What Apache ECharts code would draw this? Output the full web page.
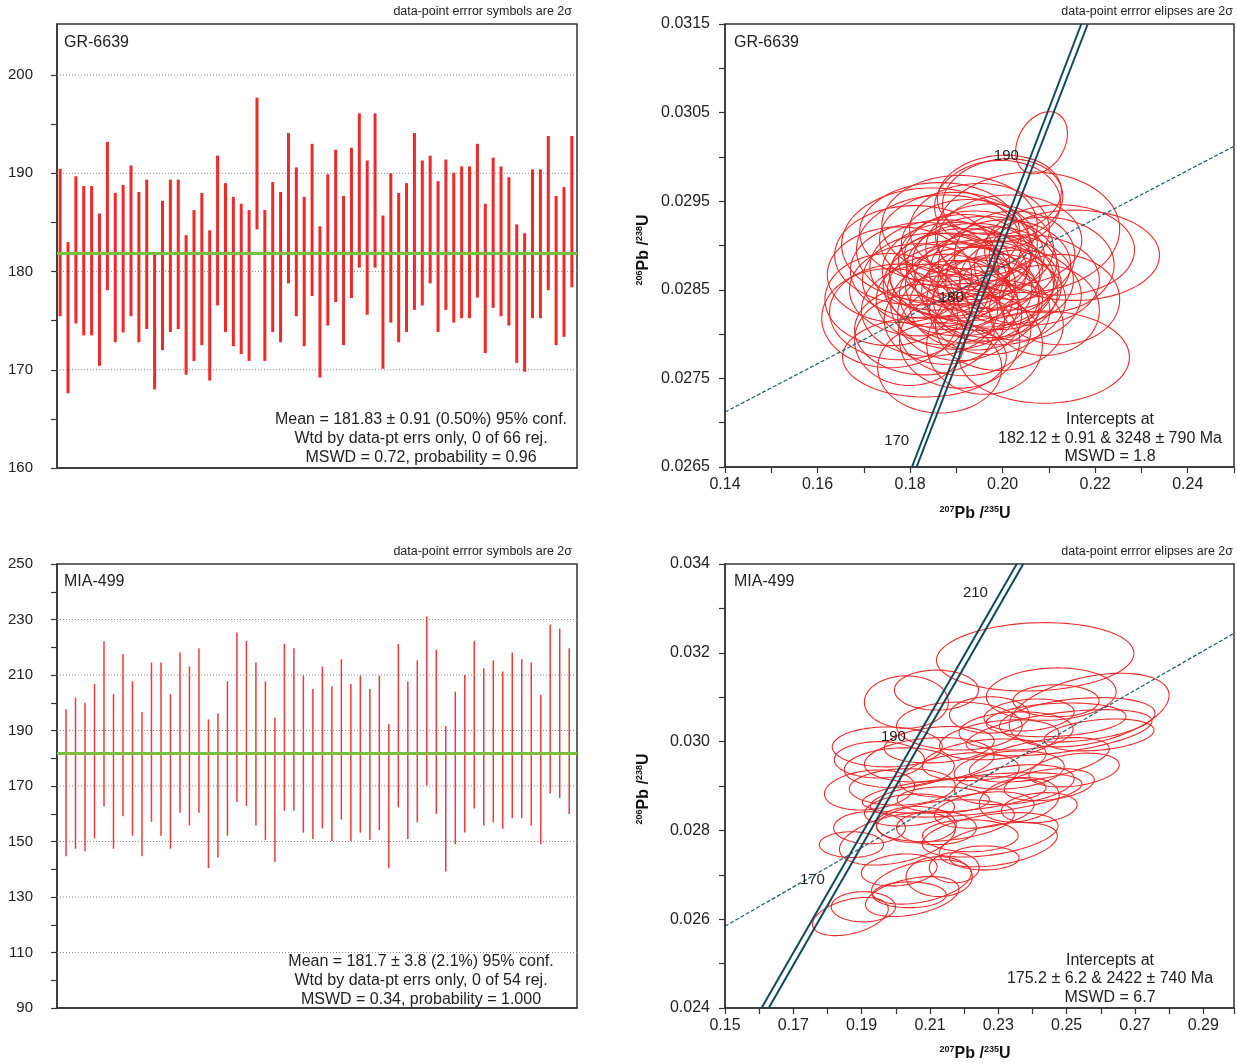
<!DOCTYPE html>
<html><head><meta charset="utf-8">
<script src="https://cdn.jsdelivr.net/npm/echarts@6/dist/echarts.min.js"></script>
<style>html,body{margin:0;padding:0;background:#fff}#c{width:1237px;height:1064px}</style>
</head><body><div id="c"></div>
<script>
// ---------------- DATA ----------------
// GR-6639 weighted mean: 2σ error bars (Ma)
const grAgeHigh = [190.46,183.0,189.7,188.7,188.7,185.9,193.2,188.0,188.8,190.8,188.1,189.35,181.8,187.2,189.35,189.35,183.7,186.25,188.0,184.2,191.8,189.0,187.6,186.9,186.25,197.7,186.25,189.1,188.1,194.1,190.6,187.6,193.0,184.6,189.9,192.4,187.7,192.6,196.1,191.3,196.1,185.7,190.0,188.0,189.0,194.1,191.3,191.8,189.2,191.4,190.05,190.7,190.7,193.0,186.9,191.6,190.7,189.6,184.8,183.9,190.4,190.4,193.8,187.7,188.6,193.8];
const grAgeLow = [175.45,167.6,174.7,173.5,173.5,170.4,178.1,172.8,173.8,175.45,172.8,174.15,168.0,172.0,173.85,174.15,169.5,170.9,172.5,168.9,176.55,173.85,172.4,171.6,170.9,184.3,170.9,173.85,172.8,178.8,175.45,172.4,177.5,169.2,174.5,176.9,172.5,177.3,180.4,175.6,180.4,170.1,174.8,172.8,173.85,176.1,176.55,178.8,173.85,176.1,174.8,175.25,175.25,177.35,171.7,176.3,175.45,174.5,170.7,169.8,175.25,175.25,178.1,172.5,173.35,178.4];
const grMean = 181.83;
const grGridValues = [170,180,190,200];
const grTickValues = [160,165,170,175,180,185,190,195,200];
const grTickLabels = [160,170,180,190,200];

// MIA-499 weighted mean: 2σ error bars (Ma)
const miaAgeHigh = [197.7,201.9,200.0,206.8,222.2,203.1,217.6,207.7,196.7,214.5,214.5,203.1,218.1,213.1,219.6,194.0,196.1,207.7,225.3,222.2,214.5,207.7,194.7,221.2,219.6,209.8,205.0,213.1,205.9,215.7,206.8,209.8,205.0,209.8,192.3,221.2,207.7,215.3,231.1,219.1,191.6,204.0,210.0,222.2,212.4,215.3,211.3,218.1,215.7,214.5,202.8,228.1,226.7,219.6];
const miaAgeLow = [144.7,147.4,146.5,151.1,162.8,147.4,159.1,152.1,144.7,157.1,152.1,147.4,160.4,155.8,160.4,140.4,144.2,152.1,164.2,162.8,155.8,150.5,142.7,161.1,161.1,153.2,150.9,154.7,150.2,157.9,150.2,153.2,150.5,154.1,140.4,162.3,150.9,156.9,170.2,159.9,139.2,149.0,153.2,161.9,155.8,156.9,154.6,158.4,158.4,155.8,149.0,167.3,165.7,159.9];
const miaMean = 181.7;
const miaGridValues = [110,130,150,170,190,210,230];

// Concordia ellipses: [207Pb/235U, 206Pb/238U, half-width x, half-height y, correlation]
const grEllipses = [
[0.2084,0.03016,0.0056,0.00035,0.3],
[0.1993,0.02957,0.0134,0.00045,0.1],
[0.2000,0.02951,0.0130,0.00047,0.1],
[0.1989,0.02946,0.0136,0.00050,0.05],
[0.2054,0.02915,0.0199,0.00068,0.05],
[0.1846,0.02901,0.0194,0.00064,0],
[0.1874,0.02895,0.0190,0.00062,0],
[0.2155,0.02889,0.0184,0.00051,0],
[0.2123,0.02895,0.0162,0.00051,0],
[0.2090,0.02878,0.0151,0.00054,0],
[0.1756,0.02818,0.0147,0.00056,0],
[0.1777,0.02825,0.0151,0.00054,0],
[0.1831,0.02774,0.0177,0.00045,0],
[0.1864,0.02762,0.0134,0.00051,0],
[0.2090,0.02774,0.0184,0.00052,0],
[0.2123,0.02839,0.0130,0.00051,0],
[0.2090,0.02827,0.0119,0.00051,0],
[0.1907,0.02793,0.0130,0.00054,0],
[0.1961,0.02788,0.0125,0.00056,0],
[0.1799,0.02793,0.0119,0.00051,0],
[0.1864,0.02878,0.0151,0.00051,0.05],
[0.1896,0.02872,0.0156,0.00054,0],
[0.1918,0.02867,0.0162,0.00052,0],
[0.1939,0.02875,0.0147,0.00050,0],
[0.1961,0.02861,0.0151,0.00053,0],
[0.1982,0.02870,0.0140,0.00051,0],
[0.1885,0.02855,0.0143,0.00050,0],
[0.1907,0.02850,0.0156,0.00052,0],
[0.1928,0.02844,0.0151,0.00054,0],
[0.1950,0.02855,0.0160,0.00051,0],
[0.1972,0.02848,0.0147,0.00052,0],
[0.1993,0.02855,0.0134,0.00050,0],
[0.1853,0.02861,0.0156,0.00053,0],
[0.1874,0.02839,0.0147,0.00051,0],
[0.1896,0.02833,0.0138,0.00050,0],
[0.1918,0.02884,0.0143,0.00051,0],
[0.1939,0.02889,0.0151,0.00050,0],
[0.1961,0.02881,0.0156,0.00052,0],
[0.2004,0.02878,0.0143,0.00051,0],
[0.2015,0.02861,0.0138,0.00050,0],
[0.1831,0.02872,0.0160,0.00054,0],
[0.1820,0.02850,0.0151,0.00052,0],
[0.1939,0.02833,0.0140,0.00051,0],
[0.1972,0.02827,0.0130,0.00050,0],
[0.1993,0.02839,0.0143,0.00051,0],
[0.1907,0.02822,0.0134,0.00052,0],
[0.1874,0.02816,0.0130,0.00050,0],
[0.1842,0.02827,0.0147,0.00052,0],
[0.1928,0.02901,0.0147,0.00051,0],
[0.1972,0.02897,0.0138,0.00050,0],
[0.1896,0.02906,0.0162,0.00054,0],
[0.2026,0.02889,0.0130,0.00050,0],
[0.2036,0.02844,0.0134,0.00051,0],
[0.1864,0.02915,0.0173,0.00056,0],
[0.1950,0.02918,0.0151,0.00052,0],
[0.1907,0.02923,0.0168,0.00056,0],
[0.2015,0.02906,0.0156,0.00051,0],
[0.1777,0.02867,0.0156,0.00054,0],
[0.1756,0.02839,0.0140,0.00052,0],
[0.1810,0.02889,0.0173,0.00056,0],
[0.2058,0.02861,0.0151,0.00051,0],
[0.1918,0.02805,0.0143,0.00052,0],
[0.1993,0.02810,0.0138,0.00051,0],
[0.1831,0.02805,0.0151,0.00051,0],
[0.1885,0.02867,0.0130,0.00047,0],
[0.1961,0.02839,0.0125,0.00047,0]
];
const miaEllipses = [
[0.2408,0.03191,0.0289,0.00077,0.1],
[0.2031,0.03089,0.0123,0.00059,0],
[0.2119,0.03116,0.0123,0.00045,0],
[0.2455,0.03107,0.0190,0.00059,0.1],
[0.2566,0.03071,0.0234,0.00083,0.4],
[0.2469,0.03092,0.0126,0.00036,0],
[0.2531,0.03049,0.0228,0.00050,0.3],
[0.2469,0.03049,0.0205,0.00038,0.2],
[0.2186,0.03035,0.0184,0.00054,0],
[0.1975,0.02988,0.0161,0.00045,0],
[0.2352,0.03024,0.0167,0.00043,0.1],
[0.2478,0.03020,0.0272,0.00052,0.5],
[0.2390,0.03060,0.0132,0.00036,0.2],
[0.2303,0.03004,0.0175,0.00045,0.3],
[0.2259,0.02959,0.0181,0.00047,0.3],
[0.2098,0.02959,0.0190,0.00050,0.2],
[0.2010,0.02941,0.0161,0.00045,0.1],
[0.2186,0.02925,0.0175,0.00050,0.3],
[0.2332,0.02936,0.0161,0.00043,0.2],
[0.2420,0.02959,0.0205,0.00050,0.5],
[0.2449,0.02903,0.0132,0.00036,0.3],
[0.2019,0.02898,0.0155,0.00041,0.1],
[0.2171,0.02880,0.0269,0.00041,0.4],
[0.2235,0.02880,0.0310,0.00050,0.5],
[0.2139,0.02869,0.0135,0.00029,0],
[0.2361,0.02869,0.0117,0.00050,0.2],
[0.2347,0.02903,0.0175,0.00045,0.3],
[0.2005,0.02781,0.0170,0.00059,0.4],
[0.2060,0.02813,0.0117,0.00041,0],
[0.2119,0.02806,0.0117,0.00038,0],
[0.2145,0.02822,0.0202,0.00047,0.3],
[0.2218,0.02788,0.0140,0.00036,0],
[0.2276,0.02790,0.0199,0.00050,0.4],
[0.2300,0.02768,0.0173,0.00050,0.4],
[0.2259,0.02738,0.0102,0.00027,0],
[0.2171,0.02716,0.0073,0.00034,0],
[0.2127,0.02696,0.0097,0.00045,0],
[0.2075,0.02684,0.0146,0.00050,0.4],
[0.2048,0.02651,0.0137,0.00045,0.4],
[0.2040,0.02655,0.0108,0.00029,0],
[0.1905,0.02628,0.0094,0.00034,0],
[0.1867,0.02606,0.0111,0.00043,0.4],
[0.1870,0.02768,0.0094,0.00029,0],
[0.1923,0.02891,0.0132,0.00045,0.2],
[0.1952,0.02959,0.0132,0.00041,0],
[0.2274,0.03060,0.0117,0.00041,0],
[0.2595,0.03015,0.0161,0.00036,0.3],
[0.2127,0.02993,0.0161,0.00041,0.2],
[0.2040,0.02846,0.0132,0.00036,0.2],
[0.2522,0.02936,0.0132,0.00038,0.3],
[0.2259,0.02846,0.0146,0.00041,0.3],
[0.1923,0.02806,0.0105,0.00036,0],
[0.2420,0.02851,0.0111,0.00034,0.2],
[0.2010,0.02711,0.0111,0.00036,0.2]
];

// Concordia band edges, discordia and age labels
const grConcordiaA = [[0.1804,0.0265],[0.2170,0.0315]];
const grConcordiaB = [[0.1814,0.0265],[0.2184,0.0315]];
const grDiscordia = [[0.14,0.02712],[0.25,0.03012]];
const grAgeLabels = [[0.2008,0.03001,'190'],[0.1889,0.02841,'180'],[0.1771,0.02679,'170']];
const miaConcordiaA = [[0.1607,0.024],[0.2354,0.034]];
const miaConcordiaB = [[0.1628,0.024],[0.2373,0.034]];
const miaDiscordia = [[0.15,0.02584],[0.299,0.03244]];
const miaAgeLabels = [[0.2233,0.03335,'210'],[0.1993,0.03011,'190'],[0.1756,0.02689,'170']];

// ---------------- STYLE / LAYOUT ----------------
const FONT = '"Liberation Sans", Arial, Helvetica, sans-serif';
const RED = '#ec2a2a';
const TEAL = '#0f4a5c';
const GREEN = '#7bbf3e';
const AX = '#333';
const TXT = '#222';

const chart = echarts.init(document.getElementById('c'));

function gridLineSeries(vals, idx) {
  return {
    type: 'custom', xAxisIndex: idx, yAxisIndex: idx, silent: true, z: 1,
    data: vals.map(v => [0, v]), encode: {x: 0, y: 1},
    renderItem: (params, api) => {
      const cs = params.coordSys;
      const p = api.coord([api.value(0), api.value(1)]);
      return {type: 'line', shape: {x1: cs.x, y1: p[1], x2: cs.x + cs.width, y2: p[1]},
        style: {stroke: '#8a8a8a', lineWidth: 1, lineDash: [1, 2]}};
    }
  };
}
function errBarSeries(lo, hi, idx, width, color) {
  return {
    type: 'custom', xAxisIndex: idx, yAxisIndex: idx, silent: true, z: 3,
    data: lo.map((l, i) => [i + 1, l, hi[i]]), encode: {x: 0, y: [1, 2]},
    renderItem: (params, api) => {
      const a = api.coord([api.value(0), api.value(1)]);
      const b = api.coord([api.value(0), api.value(2)]);
      return {type: 'line', shape: {x1: a[0], y1: a[1], x2: b[0], y2: b[1]},
        style: {stroke: color, lineWidth: width}};
    }
  };
}
function meanSeries(mean, idx, x0, x1) {
  return {type: 'line', xAxisIndex: idx, yAxisIndex: idx, silent: true, z: 4, symbol: 'none',
    data: [[x0, mean], [x1, mean]], lineStyle: {color: GREEN, width: 3}};
}
function ellipseSeries(data, idx) {
  return {
    type: 'custom', xAxisIndex: idx, yAxisIndex: idx, silent: true, z: 2,
    data: data, encode: {x: 0, y: 1},
    renderItem: (params, api) => {
      const cx = api.value(0), cy = api.value(1), sx = api.value(2), sy = api.value(3), r = api.value(4);
      const d = Math.acos(r);
      const pts = [];
      for (let k = 0; k <= 90; k++) {
        const t = k / 90 * Math.PI * 2;
        pts.push(api.coord([cx + sx * Math.cos(t), cy + sy * Math.cos(t - d)]));
      }
      return {type: 'polyline', shape: {points: pts}, style: {fill: null, stroke: RED, lineWidth: 1.1}};
    }
  };
}
function lineSeries(data, idx, style) {
  return {type: 'line', xAxisIndex: idx, yAxisIndex: idx, silent: true, z: 5, symbol: 'none',
    data: data, lineStyle: style};
}
function ageLabelSeries(data, idx) {
  return {type: 'custom', xAxisIndex: idx, yAxisIndex: idx, silent: true, z: 8,
    data: data.map(d => [d[0], d[1], Number(d[2])]), encode: {x: 0, y: 1},
    renderItem: (params, api) => {
      const p = api.coord([api.value(0), api.value(1)]);
      return {type: 'text', x: p[0], y: p[1], z2: 100,
        style: {text: String(api.value(2)), fontSize: 15, fontFamily: FONT, fill: TXT,
          align: 'center', verticalAlign: 'middle'}};
    }};
}

const axisLine = {show: true, onZero: false, lineStyle: {color: AX, width: 1.5}};
const tick = {show: true, length: 6, inside: false, lineStyle: {color: AX, width: 1.2}};

const xAxis = [
  {gridIndex: 0, type: 'value', min: 0.6, max: 66.65, axisLine, axisTick: {show: false}, axisLabel: {show: false}, splitLine: {show: false}},
  {gridIndex: 1, type: 'value', min: 0.14, max: 0.25, interval: 0.01, axisLine, axisTick: tick, splitLine: {show: false},
    axisLabel: {fontSize: 16, fontFamily: FONT, color: TXT, margin: 10,
      formatter: v => (Math.round(v * 100) % 2 === 0 ? v.toFixed(2) : '')}},
  {gridIndex: 2, type: 'value', min: 0.05, max: 54.82, axisLine, axisTick: {show: false}, axisLabel: {show: false}, splitLine: {show: false}},
  {gridIndex: 3, type: 'value', min: 0.15, max: 0.299, interval: 0.01, axisLine, axisTick: tick, splitLine: {show: false},
    axisLabel: {fontSize: 16, fontFamily: FONT, color: TXT, margin: 10,
      formatter: v => (Math.round(v * 100) % 2 === 1 ? v.toFixed(2) : '')}}
];
const yAxis = [
  {gridIndex: 0, type: 'value', min: 160, max: 205.2, interval: 5, axisLine,
    axisTick: Object.assign({customValues: grTickValues}, tick), splitLine: {show: false},
    axisLabel: {fontSize: 15, fontFamily: FONT, color: TXT, margin: 24, customValues: grTickLabels,
      formatter: v => (Math.abs(v - Math.round(v)) < 1e-6 && Math.round(v) % 10 === 0 ? String(Math.round(v)) : '')}},
  {gridIndex: 1, type: 'value', min: 0.0265, max: 0.0315, interval: 0.0005, axisLine, axisTick: tick, splitLine: {show: false},
    axisLabel: {fontSize: 16, fontFamily: FONT, color: TXT, margin: 15,
      formatter: v => (Math.round(v * 2000) % 2 === 1 ? v.toFixed(4) : '')}},
  {gridIndex: 2, type: 'value', min: 90, max: 250, interval: 10, axisLine, axisTick: tick, splitLine: {show: false},
    axisLabel: {fontSize: 15, fontFamily: FONT, color: TXT, margin: 24,
      formatter: v => ((Math.round(v) - 90) % 20 === 0 ? String(Math.round(v)) : '')}},
  {gridIndex: 3, type: 'value', min: 0.024, max: 0.034, interval: 0.001, axisLine, axisTick: tick, splitLine: {show: false},
    axisLabel: {fontSize: 16, fontFamily: FONT, color: TXT, margin: 15,
      formatter: v => (Math.round(v * 1000) % 2 === 0 ? v.toFixed(3) : '')}}
];

const gridBox = {show: true, borderColor: AX, borderWidth: 1.5, backgroundColor: 'transparent', containLabel: false};

function txt(text, x, y, size, align) {
  return {type: 'text', x: x, y: y, silent: true, z: 10,
    style: {text: text, fontSize: size, fontFamily: FONT, fill: TXT, align: align || 'left', verticalAlign: 'middle'}};
}
function axisTitle(text, x, y, rot) {
  return {type: 'text', x: x, y: y, rotation: rot || 0, silent: true, z: 10,
    style: {text: text, align: 'center', verticalAlign: 'middle', fill: '#111',
      rich: {
        s: {fontSize: 9, fontWeight: 'bold', fontFamily: FONT, fill: '#111', verticalAlign: 'top'},
        b: {fontSize: 16, fontWeight: 'bold', fontFamily: FONT, fill: '#111', lineHeight: 18}
      }}};
}

const graphic = [
  txt('data-point errror symbols are 2σ', 572, 12, 12.5, 'right'),
  txt('data-point errror elipses are 2σ', 1233, 12, 12.5, 'right'),
  txt('data-point errror symbols are 2σ', 572, 552, 12.5, 'right'),
  txt('data-point errror elipses are 2σ', 1233, 552, 12.5, 'right'),
  txt('GR-6639', 64, 43, 16, 'left'),
  txt('GR-6639', 734, 43, 16, 'left'),
  txt('MIA-499', 64, 582, 16, 'left'),
  txt('MIA-499', 734, 582, 16, 'left'),
  txt('Mean = 181.83 ± 0.91 (0.50%) 95% conf.', 421, 420, 16, 'center'),
  txt('Wtd by data-pt errs only, 0 of 66 rej.', 421, 439, 16, 'center'),
  txt('MSWD = 0.72, probability = 0.96', 421, 458, 16, 'center'),
  txt('Mean = 181.7 ± 3.8 (2.1%) 95% conf.', 421, 962, 16, 'center'),
  txt('Wtd by data-pt errs only, 0 of 54 rej.', 421, 981, 16, 'center'),
  txt('MSWD = 0.34, probability = 1.000', 421, 1000, 16, 'center'),
  txt('Intercepts at', 1110, 420, 16, 'center'),
  txt('182.12 ± 0.91 & 3248 ± 790 Ma', 1110, 439, 16, 'center'),
  txt('MSWD = 1.8', 1110, 457, 16, 'center'),
  txt('Intercepts at', 1110, 961, 16, 'center'),
  txt('175.2 ± 6.2 & 2422 ± 740 Ma', 1110, 979, 16, 'center'),
  txt('MSWD = 6.7', 1110, 998, 16, 'center'),
  axisTitle('{s|207}{b|Pb /}{s|235}{b|U}', 975, 514, 0),
  axisTitle('{s|207}{b|Pb /}{s|235}{b|U}', 975, 1054, 0),
  axisTitle('{s|206}{b|Pb /}{s|238}{b|U}', 644, 250, Math.PI / 2),
  axisTitle('{s|206}{b|Pb /}{s|238}{b|U}', 644, 789, Math.PI / 2)
];

const option = {
  animation: false,
  backgroundColor: '#fff',
  textStyle: {fontFamily: FONT},
  grid: [
    Object.assign({left: 57, top: 24, width: 520, height: 444}, gridBox),
    Object.assign({left: 725, top: 24, width: 510, height: 443}, gridBox),
    Object.assign({left: 57, top: 564, width: 520, height: 444}, gridBox),
    Object.assign({left: 725, top: 564, width: 510, height: 444}, gridBox)
  ],
  xAxis, yAxis, graphic,
  series: [
    gridLineSeries(grGridValues, 0),
    errBarSeries(grAgeLow, grAgeHigh, 0, 3, RED),
    meanSeries(grMean, 0, 0.6, 66.65),
    gridLineSeries(miaGridValues, 2),
    errBarSeries(miaAgeLow, miaAgeHigh, 2, 1.5, '#ef3a3a'),
    meanSeries(miaMean, 2, 0.05, 54.82),
    ellipseSeries(grEllipses, 1),
    lineSeries(grConcordiaA, 1, {color: TEAL, width: 2}),
    lineSeries(grConcordiaB, 1, {color: TEAL, width: 2}),
    lineSeries(grDiscordia, 1, {color: '#1d5a6e', width: 1.2, type: [4, 2]}),
    ageLabelSeries(grAgeLabels, 1),
    ellipseSeries(miaEllipses, 3),
    lineSeries(miaConcordiaA, 3, {color: TEAL, width: 2}),
    lineSeries(miaConcordiaB, 3, {color: TEAL, width: 2}),
    lineSeries(miaDiscordia, 3, {color: '#1d5a6e', width: 1.2, type: [4, 2]}),
    ageLabelSeries(miaAgeLabels, 3)
  ]
};
chart.setOption(option);
</script></body></html>
